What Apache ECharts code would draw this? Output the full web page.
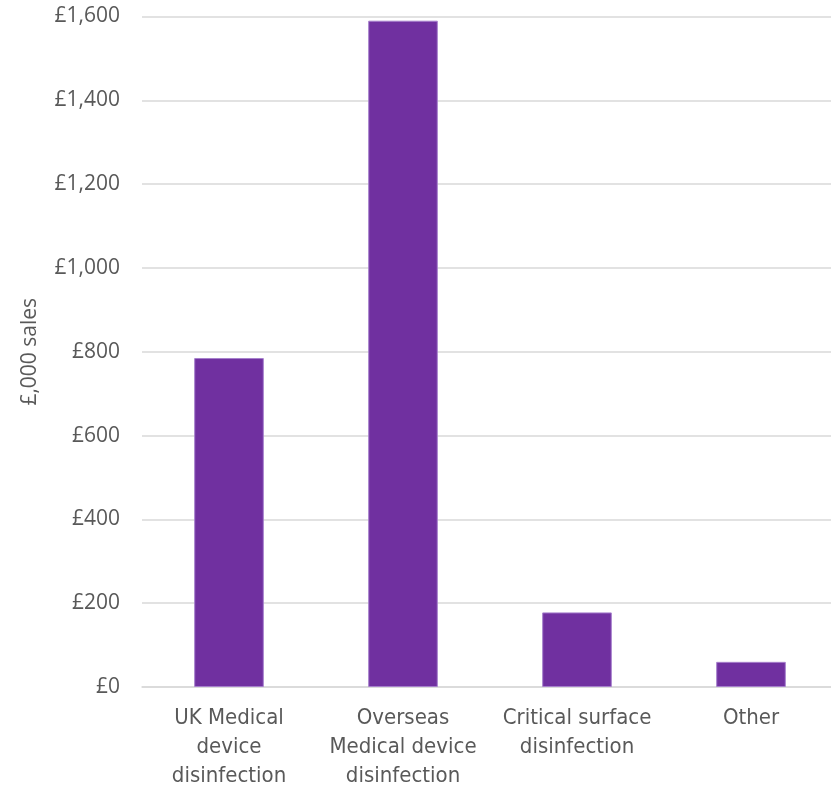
<!DOCTYPE html>
<html>
<head>
<meta charset="utf-8">
<script src="https://cdn.jsdelivr.net/npm/echarts@6/dist/echarts.min.js"></script>
<style>
  html, body { margin: 0; padding: 0; background: #ffffff; }
  #chart { width: 831px; height: 789px; }
</style>
</head>
<body>
<div id="chart"></div>
<script>
// Sales by segment, in £ thousands
const categories = [
  'UK Medical\ndevice\ndisinfection',
  'Overseas\nMedical device\ndisinfection',
  'Critical surface\ndisinfection',
  'Other'
];
const salesValues = [785, 1590, 178, 60];
const yTicks = { min: 0, max: 1600, interval: 200 };

const chart = echarts.init(document.getElementById('chart'), null, { renderer: 'canvas' });

chart.setOption({
  backgroundColor: '#ffffff',
  animation: false,
  // plot area runs a little past the right edge of the canvas
  grid: {
    left: 142, width: 696, top: 16.5, height: 670.5,
    containLabel: false,
    outerBoundsMode: 'none'
  },
  xAxis: {
    type: 'category',
    data: categories,
    axisLine: { show: true, lineStyle: { color: '#d9d9d9', width: 1.5 } },
    axisTick: { show: false },
    axisLabel: {
      color: '#595959',
      fontFamily: 'Liberation Sans Narrow, DejaVu Sans Condensed, sans-serif',
      fontSize: 22,
      lineHeight: 29,
      margin: 17,
      interval: 0
    }
  },
  yAxis: {
    type: 'value',
    min: yTicks.min,
    max: yTicks.max,
    interval: yTicks.interval,
    name: '£,000 sales',
    nameLocation: 'middle',
    nameGap: 101,
    nameRotate: 90,
    nameTextStyle: {
      color: '#595959',
      fontFamily: 'Open Sans, sans-serif',
      fontSize: 21
    },
    axisLine: { show: false },
    axisTick: { show: false },
    splitLine: { lineStyle: { color: '#d9d9d9', width: 1.5 } },
    axisLabel: {
      color: '#595959',
      fontFamily: 'Open Sans, sans-serif',
      fontSize: 21,
      margin: 22,
      formatter: v => '£' + v.toLocaleString('en-GB')
    }
  },
  series: [{
    type: 'bar',
    data: salesValues,
    barWidth: '40%',
    itemStyle: {
      color: '#7030a0',
      borderColor: '#a67fcc',
      borderWidth: 1
    }
  }]
});
</script>
</body>
</html>
